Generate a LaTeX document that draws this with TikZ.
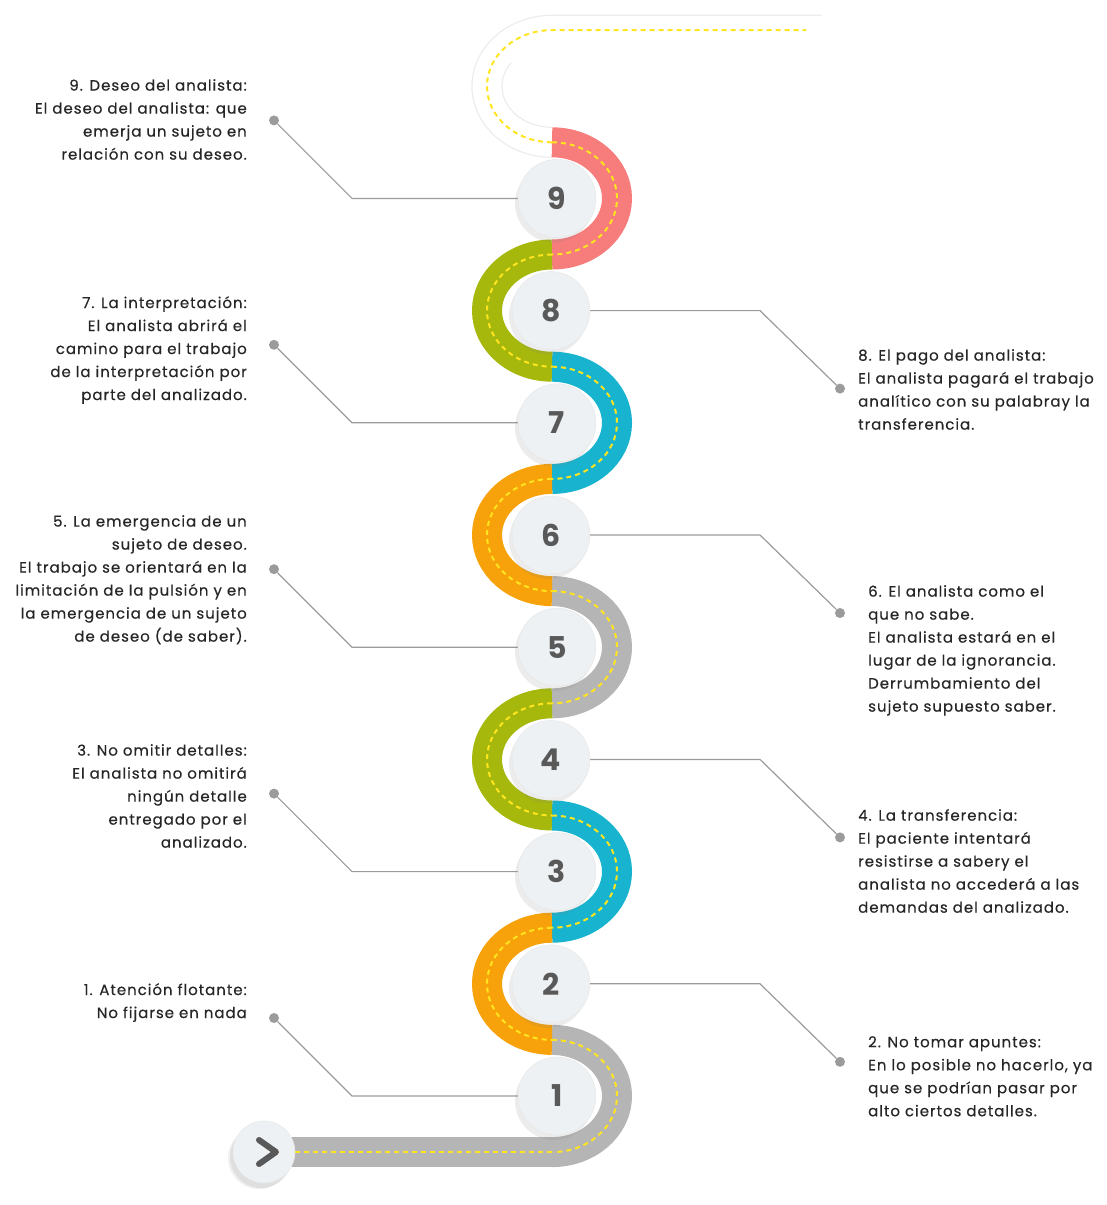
\documentclass[tikz,border=0pt]{standalone}
\usepackage{fontspec}
\setmainfont{Poppins}[LetterSpace=6.5, FakeBold=0.4]
\newfontfamily\numfont{Poppins}
\usetikzlibrary{shadows}
\definecolor{rdpink}{HTML}{F77C7C}
\definecolor{rdgreen}{HTML}{A6B80C}
\definecolor{rdcyan}{HTML}{17B3CF}
\definecolor{rdorange}{HTML}{F7A20A}
\definecolor{rdgray}{HTML}{B5B5B5}
\definecolor{lanecol}{HTML}{FFE51F}
\definecolor{txtgray}{HTML}{262626}
\definecolor{leadgray}{HTML}{9B9B9B}
\definecolor{btnfill}{HTML}{EEF1F3}
\tikzset{
  stepnode/.style = {circle, fill=btnfill, draw=gray!20, minimum size=78pt, inner sep=0pt, text=gray!70!black, font=\numfont\fontsize{30}{30}\selectfont\bfseries, drop shadow={shadow xshift=-3pt, shadow yshift=-5pt, opacity=0.15}},
  startnode/.style = {stepnode, minimum size=62pt, drop shadow={shadow xshift=-5pt, shadow yshift=-6pt, opacity=0.12}},
  dotnode/.style = {circle, fill=leadgray, inner sep=0pt, minimum size=10pt},
  lbl_l/.style = {anchor=north east, align=right, inner sep=0pt, text=txtgray, font=\fontsize{15}{23}\selectfont},
  lbl_r/.style = {anchor=north west, align=left, inner sep=0pt, text=txtgray, font=\fontsize{15}{23}\selectfont},
  leader/.style = {draw=leadgray, line width=1.2pt},
  road/.style = {line width=30pt},
  lanemark/.style = {draw=lanecol, line width=2pt, dash pattern=on 5pt off 4pt},
}
\begin{document}
\begin{tikzpicture}[x=1pt, y=-1pt]
  \useasboundingbox (0,0) rectangle (1106,1205);
  \draw[gray!15, line width=1.2pt] (552,157.3) arc[start angle=90, end angle=270, x radius=80, y radius=71] -- (822,15.2);
  \draw[gray!15, line width=1.2pt] (552,127.3) arc[start angle=90, end angle=215, x radius=50, y radius=41];
  \draw[lanemark] (552,142.3) arc[start angle=90, end angle=270, x radius=65, y radius=56.1] -- (806,30.1);
  \foreach \k/\col in {1/rdgray,3/rdcyan,5/rdgray,7/rdcyan,9/rdpink}{
    \draw[road, \col] (552,{1039.9-(\k-1)*112.2}) arc[start angle=-90, end angle=90, x radius=65, y radius=56.1];
    \draw[lanemark] (552,{1039.9-(\k-1)*112.2}) arc[start angle=-90, end angle=90, x radius=65, y radius=56.1];
  }
  \foreach \k/\col in {2/rdorange,4/rdgreen,6/rdorange,8/rdgreen}{
    \draw[road, \col] (552,{1039.9-(\k-1)*112.2}) arc[start angle=-90, end angle=-270, x radius=65, y radius=56.1];
    \draw[lanemark] (552,{1039.9-(\k-1)*112.2}) arc[start angle=-90, end angle=-270, x radius=65, y radius=56.1];
  }
  \draw[road, rdgray] (552.5,1152.1) -- (280,1152.1);
  \draw[lanemark] (552,1152.1) -- (290,1152.1);

  \node[stepnode] (c1) at (557,1096) {1};
  \node[stepnode] (c2) at (551,983.8) {2};
  \node[stepnode] (c3) at (557,871.6) {3};
  \node[stepnode] (c4) at (551,759.4) {4};
  \node[stepnode] (c5) at (557,647.2) {5};
  \node[stepnode] (c6) at (551,535) {6};
  \node[stepnode] (c7) at (557,422.8) {7};
  \node[stepnode] (c8) at (551,310.6) {8};
  \node[stepnode] (c9) at (557,198.4) {9};
  \node[startnode] (start) at (264,1152) {};
  \draw[gray!70!black, line width=6pt, line cap=round, line join=round] ([shift={(-5,-12)}]start.center) -- ([shift={(12,0)}]start.center) -- ([shift={(-5,12)}]start.center);

  \node[dotnode] (d9) at (274,120.4) {};
  \node[dotnode] (d7) at (274,344.8) {};
  \node[dotnode] (d5) at (274,569.2) {};
  \node[dotnode] (d3) at (274,793.6) {};
  \node[dotnode] (d1) at (274,1018) {};
  \node[dotnode] (d8) at (840,388.6) {};
  \node[dotnode] (d6) at (840,613) {};
  \node[dotnode] (d4) at (840,837.4) {};
  \node[dotnode] (d2) at (840,1061.8) {};

  \draw[leader] (d9) -- ++(78,78) -- (c9);
  \draw[leader] (d7) -- ++(78,78) -- (c7);
  \draw[leader] (d5) -- ++(78,78) -- (c5);
  \draw[leader] (d3) -- ++(78,78) -- (c3);
  \draw[leader] (d1) -- ++(78,78) -- (c1);
  \draw[leader] (c8) -- ++(209,0) -- (d8);
  \draw[leader] (c6) -- ++(209,0) -- (d6);
  \draw[leader] (c4) -- ++(209,0) -- (d4);
  \draw[leader] (c2) -- ++(209,0) -- (d2);

  \node[lbl_l] (t9) at (247,79) {9. Deseo del analista:\\El deseo del analista: que\\emerja un sujeto en\\relación con su deseo.};
  \node[lbl_l] (t7) at (247,296) {7. La interpretación:\\El analista abrirá el\\camino para el trabajo\\de la interpretación por\\parte del analizado.};
  \node[lbl_l] (t5) at (247,515) {5. La emergencia de un\\sujeto de deseo.\\El trabajo se orientará en la\\limitación de la pulsión y en\\la emergencia de un sujeto\\de deseo (de saber).};
  \node[lbl_l] (t3) at (247,744) {3. No omitir detalles:\\El analista no omitirá\\ningún detalle\\entregado por el\\analizado.};
  \node[lbl_l] (t1) at (247,983) {1. Atención flotante:\\No fijarse en nada};
  \node[lbl_r] (t8) at (858,349) {8. El pago del analista:\\El analista pagará el trabajo\\analítico con su palabray la\\transferencia.};
  \node[lbl_r] (t6) at (868,585) {6. El analista como el\\que no sabe.\\El analista estará en el\\lugar de la ignorancia.\\Derrumbamiento del\\sujeto supuesto saber.};
  \node[lbl_r] (t4) at (858,809) {4. La transferencia:\\El paciente intentará\\resistirse a sabery el\\analista no accederá a las\\demandas del analizado.};
  \node[lbl_r] (t2) at (868,1036) {2. No tomar apuntes:\\En lo posible no hacerlo, ya\\que se podrían pasar por\\alto ciertos detalles.};
\end{tikzpicture}
\end{document}
